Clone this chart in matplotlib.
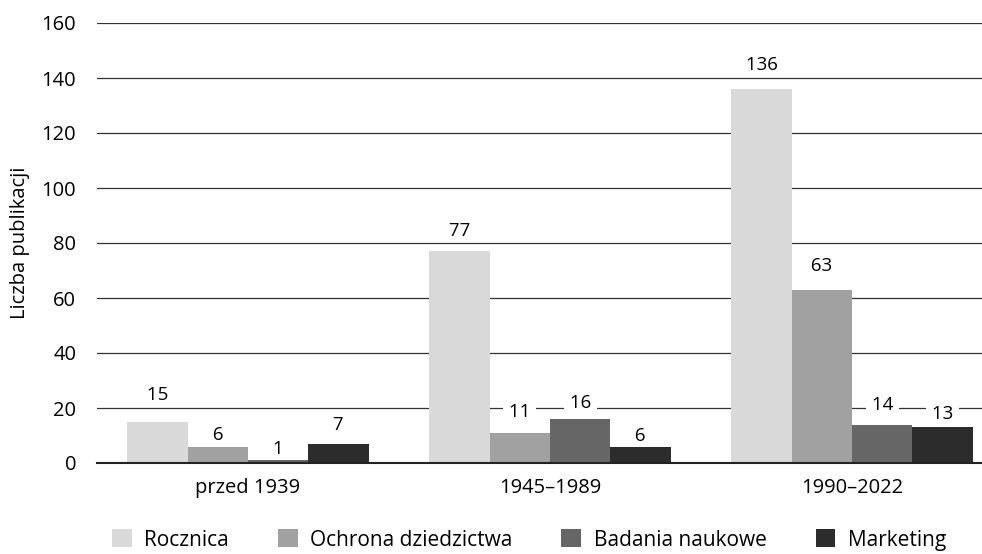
import matplotlib.pyplot as plt
import numpy as np

plt.rcParams['font.family'] = ['Open Sans', 'DejaVu Sans']

# Okresy (oś X)
periods = ["przed 1939", "1945–1989", "1990–2022"]

# Serie danych
series_names = ["Rocznica", "Ochrona dziedzictwa", "Badania naukowe", "Marketing"]
rocznica = [15, 77, 136]
ochrona = [6, 11, 63]
badania = [1, 16, 14]
marketing = [7, 6, 13]

yticks = [0, 20, 40, 60, 80, 100, 120, 140, 160]

colors = ["#d9d9d9", "#a1a1a1", "#666666", "#2c2c2c"]


def plot_publications():
    fig = plt.figure(figsize=(9.82, 5.54), dpi=100)
    # prawa krawędź osi wychodzi poza rysunek (linie siatki do krawędzi)
    ax = fig.add_axes([97 / 982, 91 / 554, (1003 - 97) / 982, 440 / 554])

    x = np.arange(len(periods))
    width = 0.2
    data = [rocznica, ochrona, badania, marketing]
    offsets = [-1.5, -0.5, 0.5, 1.5]
    # przesunięcie etykiet nad słupkami (piksele), ręcznie jak w oryginale
    label_shift = [[27, 20, 24], [11.5, 21, 24], [11, 15.5, 19.5], [18.5, 10.5, 13.5]]

    for vals, off, col, name, sh in zip(data, offsets, colors, series_names, label_shift):
        bars = ax.bar(x + off * width, vals, width, color=col, label=name, zorder=2)
        for b, v, s in zip(bars, vals, sh):
            ax.annotate(" " + str(v) + " ", (b.get_x() + b.get_width() / 2, v),
                        xytext=(0, s * 0.72), textcoords="offset points",
                        ha="center", va="center", fontsize=13.5,
                        bbox=dict(facecolor="white", edgecolor="none", pad=0.5),
                        zorder=4)

    ax.set_xlim(-0.5, 2.5)
    ax.set_ylim(0, 160)
    ax.set_yticks(yticks)
    ax.set_xticks(x)
    ax.set_xticklabels(periods, fontsize=14.5)
    ax.tick_params(axis="y", length=0, pad=15, labelsize=14.5)
    ax.tick_params(axis="x", length=0, pad=11)

    ax.yaxis.grid(True, color="#333333", linewidth=0.9, zorder=1)
    ax.set_axisbelow(True)
    for s in ["top", "right", "left"]:
        ax.spines[s].set_visible(False)
    ax.spines["bottom"].set_color("#222222")
    ax.spines["bottom"].set_linewidth(1.5)
    ax.spines["bottom"].set_zorder(3)

    ax.set_ylabel("Liczba publikacji", fontsize=14.5, labelpad=8)

    fig.legend(loc="center", bbox_to_anchor=(529 / 982, 1 - 540 / 554), ncol=4,
               frameon=False, fontsize=15, handlelength=0.95, handleheight=0.95,
               handletextpad=0.6, columnspacing=2.35)

    fig.savefig("out.png", dpi=100)


if __name__ == "__main__":
    plot_publications()
